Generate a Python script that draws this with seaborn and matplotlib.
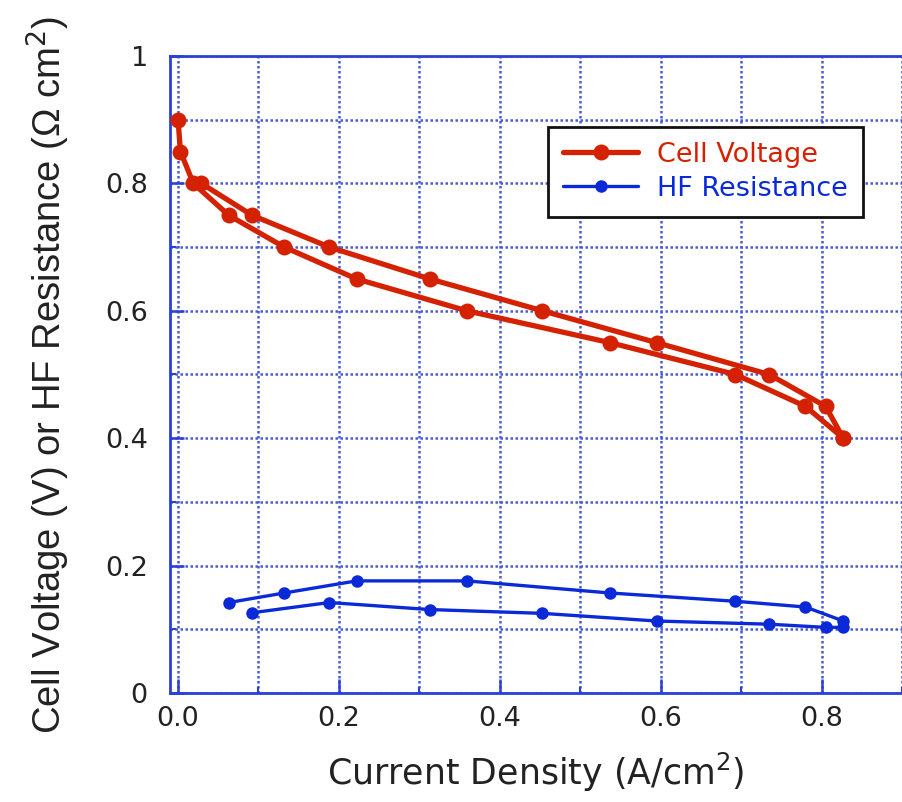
import numpy as np
import pandas as pd
import seaborn as sns
import matplotlib.pyplot as plt
from matplotlib.ticker import MultipleLocator, FormatStrFormatter

# current density (A/cm2), swept out and back
current = [0.0, 0.003, 0.019, 0.063, 0.132, 0.222, 0.359, 0.537, 0.693, 0.780,
           0.827, 0.827, 0.805, 0.735, 0.595, 0.453, 0.313, 0.188, 0.092, 0.029]
cell_voltage = [0.90, 0.85, 0.80, 0.75, 0.70, 0.65, 0.60, 0.55, 0.50, 0.45,
                0.40, 0.40, 0.45, 0.50, 0.55, 0.60, 0.65, 0.70, 0.75, 0.80]
hf_resistance = [np.nan, np.nan, np.nan, 0.142, 0.157, 0.176, 0.176, 0.157, 0.144, 0.135,
                 0.113, 0.103, 0.103, 0.108, 0.113, 0.125, 0.131, 0.142, 0.126, np.nan]

red = "#d42200"
blue = "#0a2ad8"
axis_blue = "#2a40d8"

df = pd.DataFrame({"current": current, "voltage": cell_voltage, "hfr": hf_resistance})

sns.set_theme(style="white")
plt.rcParams["font.family"] = ["DejaVu Sans"]

fig = plt.figure(figsize=(9.02, 8.02), dpi=100)
ax = fig.add_axes([170 / 902, 109 / 802, 732 / 902, 637 / 802])

sns.lineplot(data=df, x="current", y="voltage", sort=False, estimator=None,
             color=red, lw=3.8, marker="o", markersize=11.5, markeredgewidth=0,
             label="Cell Voltage", ax=ax, zorder=4)
sns.lineplot(data=df.dropna(), x="current", y="hfr", sort=False, estimator=None,
             color=blue, lw=2.4, marker="o", markersize=9, markeredgewidth=0,
             label="HF Resistance", ax=ax, zorder=4)

ax.set_xlim(-0.01, 0.9)
ax.set_ylim(0, 1)
ax.xaxis.set_major_locator(MultipleLocator(0.2))
ax.xaxis.set_minor_locator(MultipleLocator(0.1))
ax.yaxis.set_major_locator(MultipleLocator(0.2))
ax.yaxis.set_minor_locator(MultipleLocator(0.1))
ax.xaxis.set_major_formatter(FormatStrFormatter("%.1f"))
ax.set_yticks([0, 0.2, 0.4, 0.6, 0.8, 1.0])
ax.set_yticklabels(["0", "0.2", "0.4", "0.6", "0.8", "1"])

ax.grid(True, which="both", color="#4a5cd2", linestyle=(0, (1, 1)), lw=1.8)
ax.set_axisbelow(True)

for side in ["left", "bottom", "top"]:
    ax.spines[side].set_color(axis_blue)
    ax.spines[side].set_linewidth(2)
ax.spines["right"].set_visible(False)

ax.tick_params(which="major", direction="in", length=10, width=1.8, color=axis_blue,
               labelsize=19.5, labelcolor="#222222", left=True, bottom=True)
ax.tick_params(which="minor", direction="in", length=4, width=1.5, color=axis_blue,
               left=True, bottom=True)
ax.tick_params(axis="x", which="major", pad=9)
ax.tick_params(axis="y", which="major", pad=16)

ax.set_xlabel("Current Density (A/cm$^2$)", fontsize=25, color="#222222", labelpad=14)
ax.set_ylabel("Cell Voltage (V) or HF Resistance (\u03a9 cm$^2$)", fontsize=27.5,
              family=["Liberation Sans", "DejaVu Sans"], color="#222222", labelpad=24)

leg = ax.legend(loc="upper left", bbox_to_anchor=(0.516, 0.889), fontsize=19.5,
                frameon=True, fancybox=False, edgecolor="#111111", framealpha=1,
                handlelength=2.8, handletextpad=0.7, borderpad=0.55, labelspacing=0.3,
                borderaxespad=0)
leg.get_frame().set_linewidth(2)
for txt, c in zip(leg.get_texts(), [red, blue]):
    txt.set_color(c)

plt.savefig("out.png", dpi=100)
